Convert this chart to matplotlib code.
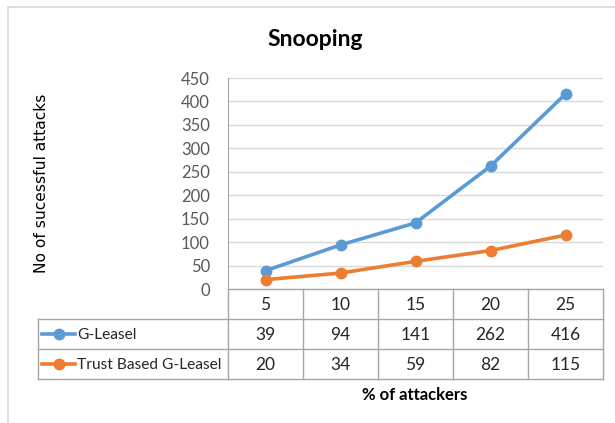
import matplotlib
matplotlib.use('Agg')
import matplotlib.pyplot as plt
from matplotlib.transforms import blended_transform_factory
from matplotlib.lines import Line2D
from matplotlib.patches import Rectangle

# data
attackers = [5, 10, 15, 20, 25]
g_leasel = [39, 94, 141, 262, 416]
trust_based = [20, 34, 59, 82, 115]
series_names = ['G-Leasel', 'Trust Based G-Leasel']
yticks = list(range(0, 451, 50))

BLUE = '#5B9BD5'
ORANGE = '#ED7D31'
GRID = '#d9d9d9'
BORDER = '#a6a6a6'
NARROW = ['Lato', 'DejaVu Sans']

W, H = 615, 423


def fx(x):
    return x / W


def fy(y):
    return 1 - y / H


fig = plt.figure(figsize=(6.15, 4.23), dpi=100)

# outer chart frame
fig.patches.append(Rectangle((fx(8), fy(430)), fx(620) - fx(8), fy(7) - fy(430),
                             transform=fig.transFigure, fill=False,
                             edgecolor=GRID, linewidth=1.2))

ax = fig.add_axes([fx(228), fy(289), fx(603) - fx(228), fy(78) - fy(289)])
xs = list(range(len(attackers)))
ax.plot(xs, g_leasel, color=BLUE, lw=2.6, marker='o', ms=7.5, zorder=3)
ax.plot(xs, trust_based, color=ORANGE, lw=2.6, marker='o', ms=7.5, zorder=3)

ax.set_xlim(-0.5, len(attackers) - 0.5)
ax.set_ylim(0, 450)
ax.set_yticks(yticks)
ax.set_xticks([])
ax.yaxis.grid(True, color=GRID, lw=1)
ax.set_axisbelow(True)
for s in ['top', 'right', 'bottom']:
    ax.spines[s].set_visible(False)
ax.spines['left'].set_color(BORDER)
ax.tick_params(axis='y', length=0, pad=13, colors='#595959')
for lab in ax.get_yticklabels():
    lab.set_family(NARROW)
    lab.set_fontsize(12)

# data table under the plot
tr = blended_transform_factory(ax.transData, fig.transFigure)
rows_y = [289, 319, 349, 379]
left_x = 38
col_edges = [i - 0.5 for i in range(len(attackers) + 1)]

line_kw = dict(color=BORDER, lw=1, clip_on=False)
for y in rows_y:
    x0 = fx(left_x) if y != rows_y[0] else fx(228)
    fig.add_artist(Line2D([x0, fx(603)], [fy(y), fy(y)], transform=fig.transFigure, **line_kw))
fig.add_artist(Line2D([fx(left_x), fx(left_x)], [fy(rows_y[1]), fy(rows_y[3])],
                      transform=fig.transFigure, **line_kw))
for e in col_edges:
    fig.add_artist(Line2D([e, e], [fy(rows_y[0]), fy(rows_y[3])], transform=tr, **line_kw))

cell_kw = dict(ha='center', va='center', fontsize=12.5, color='#262626', family=NARROW)
for i, a in enumerate(attackers):
    fig.text(i, fy(305), str(a), transform=tr, **cell_kw)
    fig.text(i, fy(335), str(g_leasel[i]), transform=tr, **cell_kw)
    fig.text(i, fy(365), str(trust_based[i]), transform=tr, **cell_kw)

for row_y, name, col in [(334, series_names[0], BLUE), (364, series_names[1], ORANGE)]:
    fig.add_artist(Line2D([fx(42), fx(75)], [fy(row_y), fy(row_y)], transform=fig.transFigure,
                          color=col, lw=2.6, marker=None))
    fig.add_artist(Line2D([fx(58.5)], [fy(row_y)], transform=fig.transFigure,
                          color=col, marker='o', ms=7.5, lw=0))
    fig.text(fx(77), fy(row_y + 1), name, ha='left', va='center', fontsize=11.2,
             color='#262626', family=NARROW)

fig.text(fx(315), fy(40), 'Snooping', ha='center', va='center', fontsize=16.5,
         fontweight='bold', family=NARROW, color='black')
fig.text(fx(415), fy(395), '% of attackers', ha='center', va='center', fontsize=12,
         fontweight='bold', family=NARROW, color='black')
fig.text(fx(42), fy(183), 'No of sucessful attacks', ha='center', va='center',
         rotation=90, fontsize=11.2, color='black')

fig.savefig('out.png', dpi=100)
